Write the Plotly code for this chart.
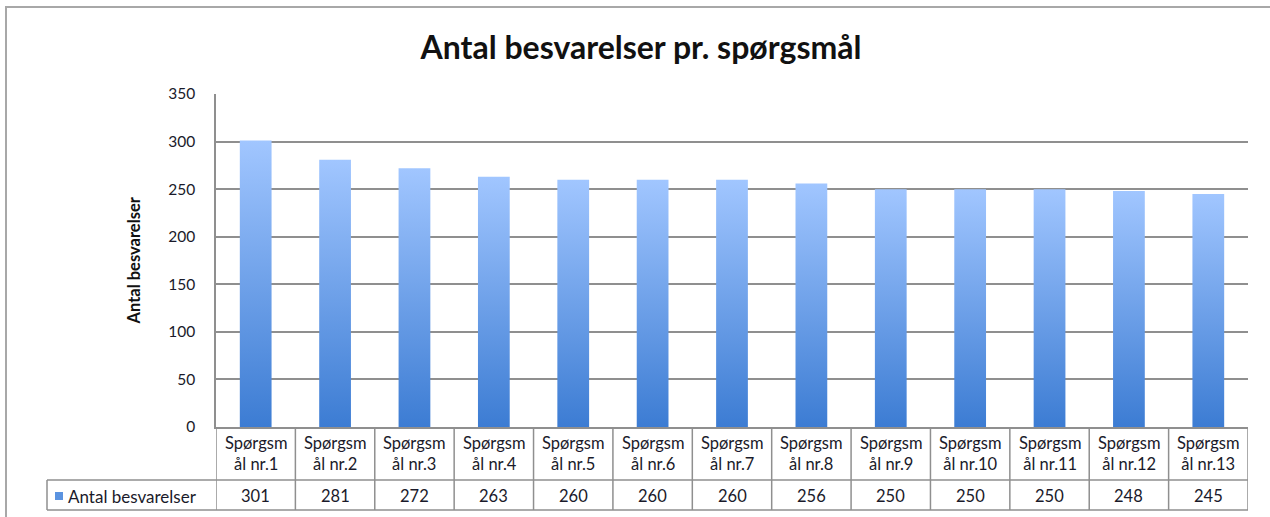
import plotly.graph_objects as go

categories = ["Spørgsmål nr.1", "Spørgsmål nr.2", "Spørgsmål nr.3", "Spørgsmål nr.4",
              "Spørgsmål nr.5", "Spørgsmål nr.6", "Spørgsmål nr.7", "Spørgsmål nr.8",
              "Spørgsmål nr.9", "Spørgsmål nr.10", "Spørgsmål nr.11", "Spørgsmål nr.12",
              "Spørgsmål nr.13"]
values = [301, 281, 272, 263, 260, 260, 260, 256, 250, 250, 250, 248, 245]
series_name = "Antal besvarelser"
title_text = "Antal besvarelser pr. spørgsmål"
y_ticks = [0, 50, 100, 150, 200, 250, 300, 350]

FONT = "Lato"
W, H = 1270, 517
L, R, T, B = 216, 22, 94, 90
pw, ph = W - L - R, H - T - B

def py(pix):  # pixel y -> paper y
    return (H - B - pix) / ph

def px(pix):  # pixel x -> paper x
    return (pix - L) / pw

half = 0.2
fig = go.Figure()
for i, v in enumerate(values):
    fig.add_trace(go.Scatter(
        x=[i - half, i - half, i + half, i + half, i - half],
        y=[0, v, v, 0, 0],
        mode="lines", fill="toself", line=dict(width=0),
        fillgradient=dict(type="vertical",
                          colorscale=[[0, "#3c7cd3"], [1, "#a1c6ff"]]),
        name=categories[i], showlegend=False, hoverinfo="skip"))

grid = "#8f8f8f"
shapes = []
# outer frame
shapes.append(dict(type="rect", xref="paper", yref="paper",
                   x0=px(6), x1=px(1290), y0=py(560), y1=py(7),
                   line=dict(color="#a8a8a8", width=2), layer="below"))
# table lines
y_row1 = py(480)
y_row2 = py(510)
n = len(categories)
for k in range(n + 1):
    shapes.append(dict(type="line", xref="x", yref="paper", x0=k - 0.5, x1=k - 0.5,
                       y0=y_row2, y1=0, line=dict(color=grid, width=1.5)))
shapes.append(dict(type="line", xref="paper", yref="paper", x0=px(47), x1=1,
                   y0=y_row1, y1=y_row1, line=dict(color=grid, width=1.5)))
shapes.append(dict(type="line", xref="paper", yref="paper", x0=px(47), x1=1,
                   y0=y_row2, y1=y_row2, line=dict(color=grid, width=1.5)))
shapes.append(dict(type="line", xref="paper", yref="paper", x0=px(47), x1=px(47),
                   y0=y_row2, y1=y_row1, line=dict(color=grid, width=1.5)))
# legend key
shapes.append(dict(type="rect", xref="paper", yref="paper",
                   x0=px(55), x1=px(63), y0=py(500), y1=py(492),
                   fillcolor="#5b93e0", line=dict(width=0)))

annotations = []
txt = "#1a1a2a"
for i, c in enumerate(categories):
    a, b = c[:7], c[7:]
    annotations.append(dict(xref="x", yref="paper", x=i, y=py(453),
                            text=a + "<br>" + b, showarrow=False,
                            font=dict(family=FONT, size=16.5, color=txt),
                            xanchor="center", yanchor="middle"))
    annotations.append(dict(xref="x", yref="paper", x=i, y=py(496),
                            text=str(values[i]), showarrow=False,
                            font=dict(family=FONT, size=16.5, color=txt),
                            xanchor="center", yanchor="middle"))
annotations.append(dict(xref="paper", yref="paper", x=px(66), y=py(496),
                        text=series_name, showarrow=False,
                        font=dict(family=FONT, size=17, color=txt),
                        xanchor="left", yanchor="middle"))
annotations.append(dict(xref="paper", yref="paper", x=px(133), y=0.5,
                        text="<b>" + series_name + "</b>", textangle=-90, showarrow=False,
                        font=dict(family=FONT, size=16.5, color="#111"),
                        xanchor="center", yanchor="middle"))

fig.update_layout(
    width=W, height=H,
    margin=dict(l=L, r=R, t=T, b=B, autoexpand=False),
    paper_bgcolor="white", plot_bgcolor="white",
    title=dict(text="<b>" + title_text + "</b>", x=641 / W, xref="container", xanchor="center",
               y=1 - 48 / H, yref="container", yanchor="middle",
               font=dict(family=FONT, size=32, color="#111")),
    xaxis=dict(range=[-0.5, n - 0.5], showticklabels=False, showgrid=False,
               zeroline=False, showline=True, linecolor=grid, linewidth=1.5, fixedrange=True),
    yaxis=dict(range=[0, 350], tickvals=y_ticks, showgrid=True, gridcolor=grid, gridwidth=1.5,
               zeroline=False, showline=True, linecolor=grid, linewidth=1.5,
               tickfont=dict(family=FONT, size=15.5, color="#1a1a2a"), ticklabelstandoff=16,
               fixedrange=True),
    shapes=shapes, annotations=annotations, showlegend=False,
)
fig.write_html("out.html", config={"displayModeBar": False},
               post_script="document.body.style.margin='0';document.body.style.overflow='hidden';")
